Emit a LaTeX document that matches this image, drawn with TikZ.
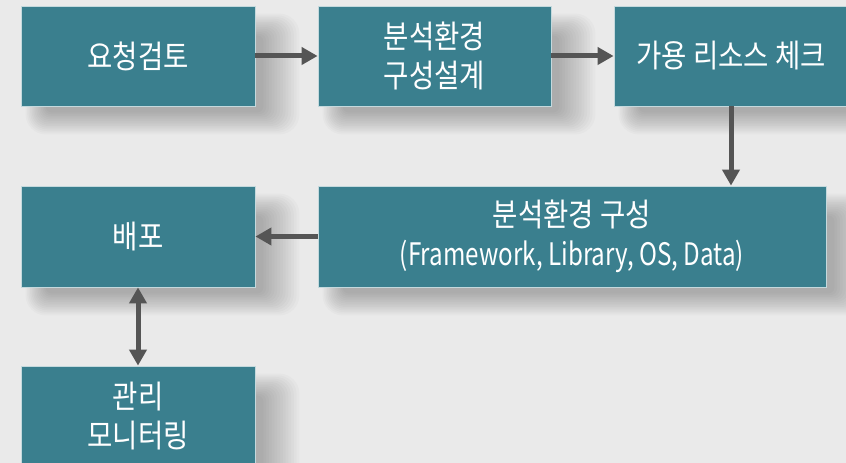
\documentclass[tikz,border=0pt]{standalone}
\usepackage{fontspec}
\setmainfont{Noto Sans CJK KR}[FakeStretch=0.86]
\newfontfamily\latn{Noto Sans CJK KR}[FakeStretch=0.78]
\usetikzlibrary{arrows.meta}
\definecolor{bg}{HTML}{EAEAEA}
\definecolor{teal}{HTML}{3A7F8E}
\definecolor{arr}{HTML}{555555}
\pgfdeclarelayer{bgfill}
\pgfdeclarelayer{shadow}
\pgfsetlayers{bgfill,shadow,main}
\tikzset{
  box/.style={rectangle, fill=teal, draw=white!70!teal, line width=0.8pt,
    text=white, font=\fontsize{32}{39}\selectfont, align=center, inner sep=0pt},
  shadowlayer/.style={fill=black, opacity=0.018},
  conn/.style={draw=arr, line width=5pt, -{Triangle[length=16pt,width=17pt]}},
  dconn/.style={draw=arr, line width=5pt, {Triangle[length=16pt,width=17pt]}-{Triangle[length=16pt,width=17pt]}}
}
\newcommand\mkshadow[1]{%
  \begin{pgfonlayer}{shadow}
  \foreach \k in {0,...,13}{%
    \pgfmathsetmacro\tt{\k/13}%
    \pgfmathsetmacro\ax{5+20*\tt}\pgfmathsetmacro\ay{-28+22*\tt}%
    \pgfmathsetmacro\bx{44-36*\tt}\pgfmathsetmacro\by{-8-22*\tt}%
    \pgfmathsetmacro\rr{20-14*\tt}%
    \fill[shadowlayer, rounded corners=\rr pt] ([shift={(\ax pt,\ay pt)}]#1.south west) rectangle ([shift={(\bx pt,\by pt)}]#1.north east);
  }
  \end{pgfonlayer}}
\begin{document}
\begin{tikzpicture}[x=1pt,y=1pt]
\clip (0,0) rectangle (846,463);
\begin{pgfonlayer}{bgfill}
\fill[bg] (0,0) rectangle (846,463);
\end{pgfonlayer}
\node[box, minimum width=234pt, minimum height=100pt] (b1) at (138,407) {요청검토};
\node[box, minimum width=233pt, minimum height=100pt] (b2) at (434.5,407) {분석환경\\구성설계};
\node[box, minimum width=234pt, minimum height=100pt] (b3) at (731,407) {가용 리소스 체크};
\node[box, minimum width=508pt, minimum height=101pt] (b4) at (572,226.5) {분석환경 구성\\{\latn\fontsize{31}{39}\selectfont (Framework, Library, OS, Data)}};
\node[box, minimum width=234pt, minimum height=101pt] (b5) at (138,226.5) {배포};
\node[box, minimum width=234pt, minimum height=100pt] (b6) at (138,47) {관리\\모니터링};
\mkshadow{b1}\mkshadow{b2}\mkshadow{b3}\mkshadow{b4}\mkshadow{b5}\mkshadow{b6}
\draw[conn] (b1.east) -- (b2.west);
\draw[conn] (b2.east) -- (b3.west);
\draw[conn] (b3.south) -- (b3.south |- b4.north);
\draw[conn] (b4.west) -- (b5.east);
\draw[dconn] (b5.south) -- (b6.north);
\end{tikzpicture}
\end{document}
